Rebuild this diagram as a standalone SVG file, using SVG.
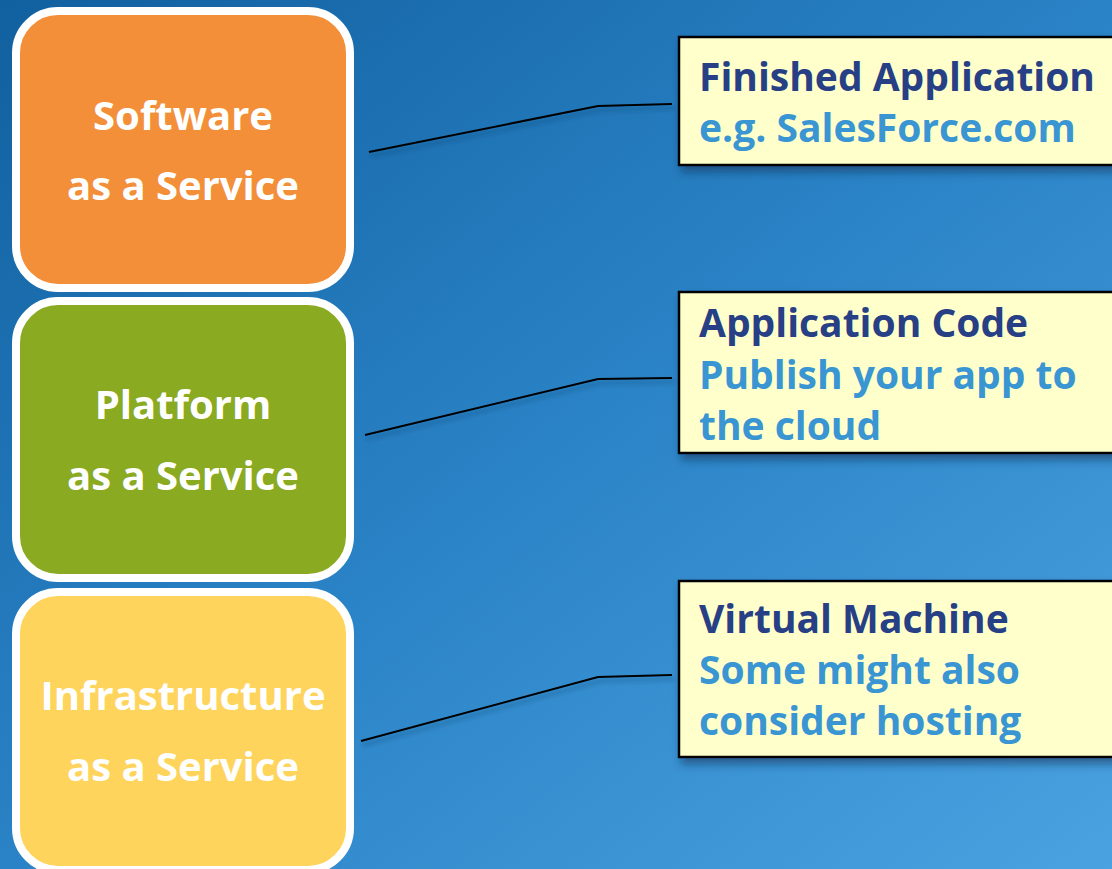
<svg xmlns="http://www.w3.org/2000/svg" width="1112" height="869" viewBox="0 0 1112 869">
<defs>
<linearGradient id="bg" x1="0" y1="0" x2="1" y2="1">
<stop offset="0" stop-color="#11609F"/>
<stop offset="0.5" stop-color="#2A83C6"/>
<stop offset="1" stop-color="#4AA2E0"/>
</linearGradient>
<filter id="sh" x="-10%" y="-10%" width="130%" height="140%">
<feDropShadow dx="3" dy="6" stdDeviation="4" flood-color="#0A2E55" flood-opacity="0.55"/>
</filter>
<filter id="lsh" x="-10%" y="-50%" width="120%" height="200%">
<feDropShadow dx="2" dy="4" stdDeviation="2" flood-color="#0A2E55" flood-opacity="0.4"/>
</filter>
</defs>
<style>
.tier{stroke:#FFFFFF;stroke-width:8}
.tt{font-family:"Open Sans","Noto Sans",sans-serif;font-weight:bold;font-size:40px;fill:#FFFFFF;text-anchor:middle}
.note{fill:#FFFFCC;stroke:#000000;stroke-width:2.5}
.h{font-family:"Open Sans","Noto Sans",sans-serif;font-weight:bold;font-size:39px;fill:#273F85}
.s{font-family:"Open Sans","Noto Sans",sans-serif;font-weight:bold;font-size:39px;fill:#3A95D3}
.con{fill:none;stroke:#000000;stroke-width:2}
</style>
<rect width="1112" height="869" fill="url(#bg)"/>
<g id="saas">
<rect class="tier" x="16" y="11" width="334" height="277" rx="42" fill="#F38E39"/>
<text class="tt" x="183" y="130">Software</text>
<text class="tt" x="183" y="200">as a Service</text>
</g>
<g id="paas">
<rect class="tier" x="16" y="301" width="334" height="277" rx="42" fill="#8AAA22"/>
<text class="tt" x="183" y="419">Platform</text>
<text class="tt" x="183" y="490">as a Service</text>
</g>
<g id="iaas">
<rect class="tier" x="16" y="592" width="334" height="278" rx="42" fill="#FED45C"/>
<text class="tt" x="183" y="710">Infrastructure</text>
<text class="tt" x="183" y="781">as a Service</text>
</g>
<g id="connectors" filter="url(#lsh)">
<polyline class="con" points="369,152 598,106 672,104"/>
<polyline class="con" points="365,435 598,379 672,378"/>
<polyline class="con" points="361,741 598,677 672,675"/>
</g>
<g id="note-saas">
<rect class="note" x="679" y="37" width="450" height="128" filter="url(#sh)"/>
<text class="h" x="699" y="91">Finished Application</text>
<text class="s" x="699" y="142">e.g. SalesForce.com</text>
</g>
<g id="note-paas">
<rect class="note" x="679" y="292" width="450" height="161" filter="url(#sh)"/>
<text class="h" x="699" y="337">Application Code</text>
<text class="s" x="699" y="389">Publish your app to</text>
<text class="s" x="699" y="440">the cloud</text>
</g>
<g id="note-iaas">
<rect class="note" x="679" y="581" width="450" height="176" filter="url(#sh)"/>
<text class="h" x="699" y="633">Virtual Machine</text>
<text class="s" x="699" y="684">Some might also</text>
<text class="s" x="699" y="735">consider hosting</text>
</g>
</svg>
